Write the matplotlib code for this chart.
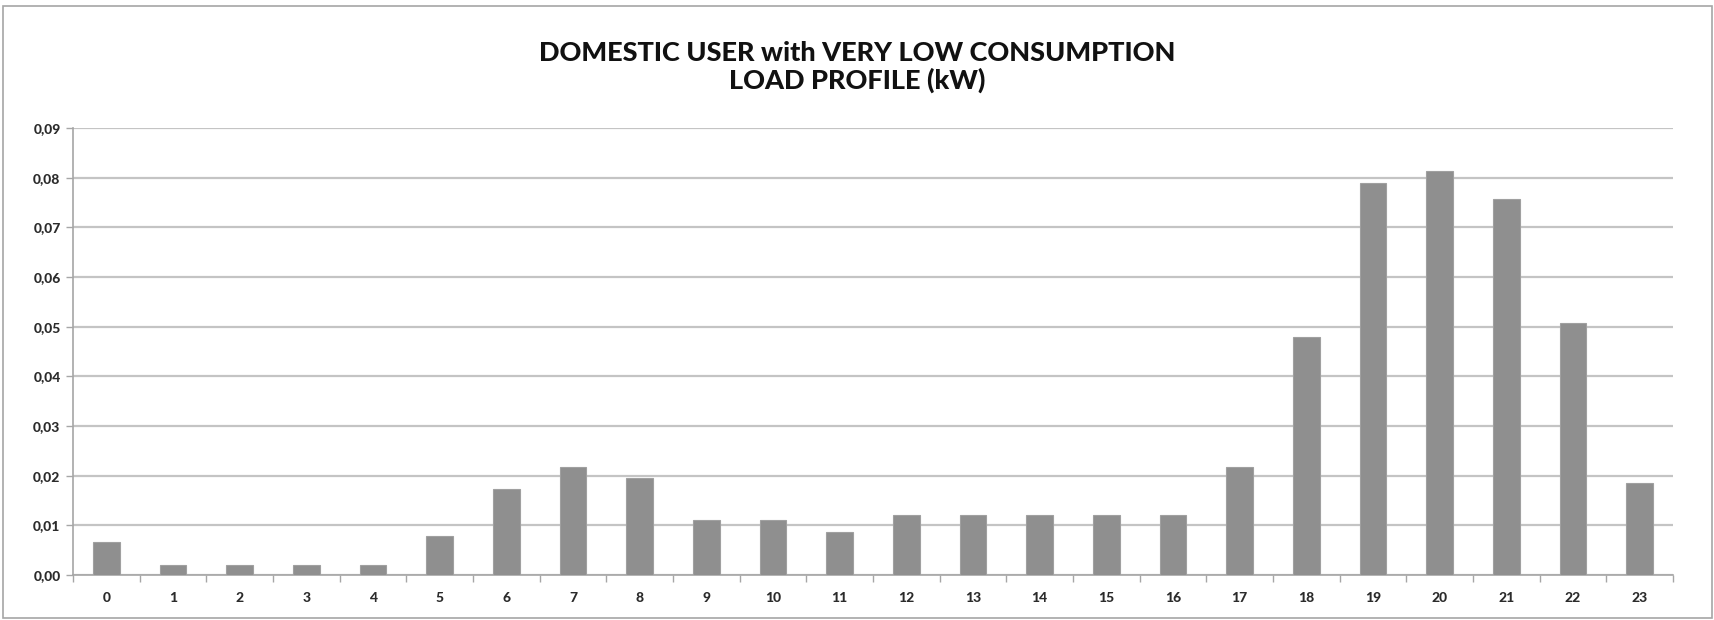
import matplotlib
matplotlib.use("Agg")
import matplotlib.pyplot as plt
from matplotlib.patches import Rectangle

# hourly load profile (kW)
hours = list(range(24))
load_kw = [0.0066, 0.0020, 0.0020, 0.0020, 0.0020, 0.0078, 0.0174, 0.0218,
           0.0196, 0.0110, 0.0110, 0.0087, 0.0120, 0.0120, 0.0120, 0.0120,
           0.0120, 0.0218, 0.0480, 0.0790, 0.0813, 0.0758, 0.0507, 0.0185]
y_ticks = [0.00, 0.01, 0.02, 0.03, 0.04, 0.05, 0.06, 0.07, 0.08, 0.09]

title = "DOMESTIC USER with VERY LOW CONSUMPTION\nLOAD PROFILE (kW)"

plt.rcParams['font.family'] = ['Lato', 'DejaVu Sans']

fig = plt.figure(figsize=(17.15, 6.2), dpi=100)
ax = fig.add_axes([0.0426, 0.0726, 0.9329, 0.7209])

# outer chart border
fig.patches.append(Rectangle((0.0015, 0.003), 0.997, 0.988, transform=fig.transFigure,
                             fill=False, edgecolor='#a6a6a6', linewidth=1.2))

ax.bar(hours, load_kw, width=0.4, color='#8f8f8f', edgecolor='#a0a0a0',
       linewidth=0.8, zorder=3)

ax.set_xlim(-0.5, 23.5)
ax.set_ylim(0, 0.09)
ax.set_yticks(y_ticks)
ax.set_yticklabels([("%.2f" % v).replace(".", ",") for v in y_ticks])
ax.set_xticks(hours)
ax.set_xticklabels([str(h) for h in hours])

# category boundary tick marks like Excel
ax.set_xticks([h - 0.5 for h in hours] + [23.5], minor=True)
ax.tick_params(axis='x', which='major', length=0, pad=12)
ax.tick_params(axis='x', which='minor', length=5, color='#a6a6a6', width=1)
ax.tick_params(axis='y', length=5, color='#a6a6a6', width=1, pad=4)
ax.tick_params(labelsize=10, labelcolor='#2b2b2b')
for lab in ax.get_xticklabels() + ax.get_yticklabels():
    lab.set_fontweight('black')

ax.grid(axis='y', color='#c4c4c4', linewidth=1.6, zorder=0)
for side in ['top', 'right']:
    ax.spines[side].set_visible(False)
ax.spines['left'].set_color('#a6a6a6')
ax.spines['bottom'].set_color('#a6a6a6')
ax.spines['left'].set_linewidth(1.2)
ax.spines['bottom'].set_linewidth(1.2)

fig.text(0.5, 0.892, title, ha='center', va='center', fontsize=19.5,
         fontweight='black', color='#111111', linespacing=1.15)

fig.savefig("out.png", dpi=100)
